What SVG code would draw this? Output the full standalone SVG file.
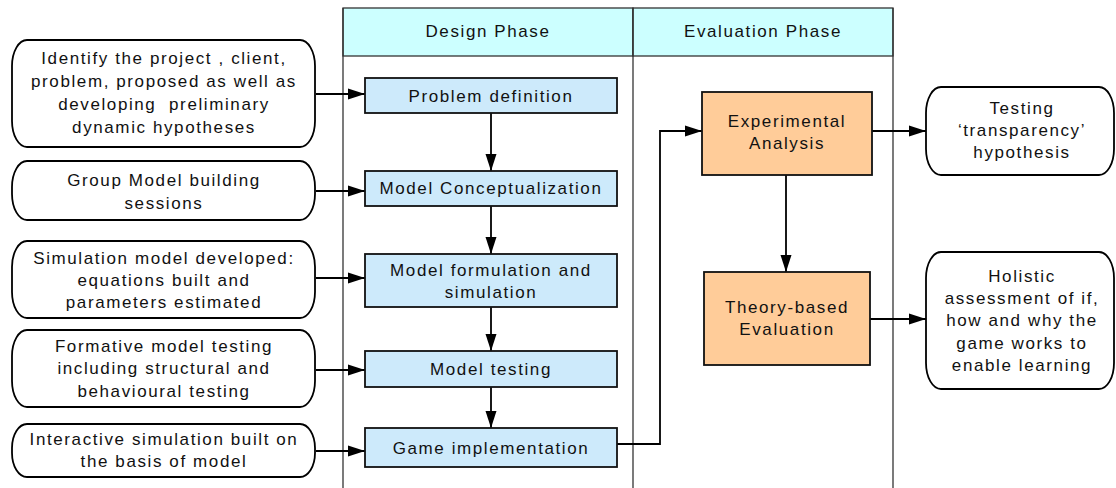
<svg xmlns="http://www.w3.org/2000/svg" width="1116" height="488" viewBox="0 0 1116 488">
  <defs>
    <marker id="arrow" markerUnits="userSpaceOnUse" markerWidth="17" markerHeight="12" refX="17" refY="6" orient="auto">
      <path d="M0,0.5 L17,6 L0,11.5 z" fill="#000"/>
    </marker>
    <style>
      text { font-family: "Liberation Sans", Arial, sans-serif; font-size: 17px; letter-spacing: 1.6px; fill: #111; text-anchor: middle; dominant-baseline: central; white-space: pre; }
      .lane { fill: none; stroke: #333; stroke-width: 1.3; }
      .head { fill: #ccffff; stroke: #333; stroke-width: 1.3; }
      .term { fill: #fff; stroke: #000; stroke-width: 1.8; }
      .step { fill: #cdeafb; stroke: #111; stroke-width: 1.8; }
      .eval { fill: #ffcc99; stroke: #111; stroke-width: 1.8; }
      .conn { fill: none; stroke: #000; stroke-width: 1.8; marker-end: url(#arrow); }
    </style>
  </defs>
  <rect width="1116" height="488" fill="#fff"/>

  <!-- swimlanes -->
  <g id="lanes">
    <rect class="head" x="343" y="8" width="290" height="48"/>
    <rect class="head" x="633" y="8" width="260" height="48"/>
    <line class="lane" x1="343" y1="8" x2="343" y2="488"/>
    <line class="lane" x1="633" y1="8" x2="633" y2="488"/>
    <line class="lane" x1="893" y1="8" x2="893" y2="488"/>
    <text x="488" y="31">Design Phase</text>
    <text x="763" y="31">Evaluation Phase</text>
  </g>

  <!-- connectors -->
  <g id="connectors">
    <line class="conn" x1="316" y1="94" x2="365" y2="94"/>
    <line class="conn" x1="316" y1="191" x2="365" y2="191"/>
    <line class="conn" x1="316" y1="278" x2="365" y2="278"/>
    <line class="conn" x1="316" y1="370" x2="365" y2="370"/>
    <line class="conn" x1="316" y1="451" x2="365" y2="451"/>
    <line class="conn" x1="491" y1="113" x2="491" y2="171"/>
    <line class="conn" x1="491" y1="206" x2="491" y2="254"/>
    <line class="conn" x1="491" y1="307" x2="491" y2="351"/>
    <line class="conn" x1="491" y1="387" x2="491" y2="428"/>
    <polyline class="conn" points="617,444 660,444 660,131 702,131"/>
    <line class="conn" x1="872" y1="131" x2="926" y2="131"/>
    <line class="conn" x1="786" y1="175" x2="786" y2="272"/>
    <line class="conn" x1="870" y1="319" x2="926" y2="319"/>
  </g>

  <!-- input activities -->
  <g id="in-identify">
    <rect class="term" x="12" y="40" width="303" height="107" rx="15" ry="26"/>
    <text x="164" y="58">Identify the project , client,</text>
    <text x="164" y="81">problem, proposed as well as</text>
    <text x="164" y="104">developing  preliminary</text>
    <text x="164" y="127">dynamic hypotheses</text>
  </g>
  <g id="in-gmb">
    <rect class="term" x="12" y="161" width="303" height="59" rx="15" ry="26"/>
    <text x="164" y="180">Group Model building</text>
    <text x="164" y="203">sessions</text>
  </g>
  <g id="in-sim">
    <rect class="term" x="12" y="241" width="303" height="77" rx="15" ry="26"/>
    <text x="164" y="258">Simulation model developed:</text>
    <text x="164" y="280">equations built and</text>
    <text x="164" y="302">parameters estimated</text>
  </g>
  <g id="in-testing">
    <rect class="term" x="12" y="330" width="303" height="77" rx="15" ry="26"/>
    <text x="164" y="346">Formative model testing</text>
    <text x="164" y="368">including structural and</text>
    <text x="164" y="391">behavioural testing</text>
  </g>
  <g id="in-game">
    <rect class="term" x="12" y="424" width="303" height="53" rx="15" ry="24"/>
    <text x="164" y="439">Interactive simulation built on</text>
    <text x="164" y="461">the basis of model</text>
  </g>

  <!-- design phase steps -->
  <g id="step-problem">
    <rect class="step" x="365" y="78" width="252" height="35"/>
    <text x="491" y="96">Problem definition</text>
  </g>
  <g id="step-concept">
    <rect class="step" x="365" y="171" width="252" height="35"/>
    <text x="491" y="188">Model Conceptualization</text>
  </g>
  <g id="step-formulation">
    <rect class="step" x="365" y="254" width="252" height="53"/>
    <text x="491" y="270">Model formulation and</text>
    <text x="491" y="292">simulation</text>
  </g>
  <g id="step-testing">
    <rect class="step" x="365" y="351" width="252" height="36"/>
    <text x="491" y="369">Model testing</text>
  </g>
  <g id="step-game">
    <rect class="step" x="365" y="428" width="252" height="39"/>
    <text x="491" y="448">Game implementation</text>
  </g>

  <!-- evaluation phase steps -->
  <g id="eval-experimental">
    <rect class="eval" x="702" y="92" width="170" height="83"/>
    <text x="787" y="121">Experimental</text>
    <text x="787" y="143">Analysis</text>
  </g>
  <g id="eval-theory">
    <rect class="eval" x="704" y="272" width="166" height="93"/>
    <text x="787" y="307">Theory-based</text>
    <text x="787" y="329">Evaluation</text>
  </g>

  <!-- outcomes -->
  <g id="out-transparency">
    <rect class="term" x="926" y="87" width="188" height="88" rx="15" ry="26"/>
    <text x="1022" y="108">Testing</text>
    <text x="1022" y="130">‘transparency’</text>
    <text x="1022" y="152">hypothesis</text>
  </g>
  <g id="out-holistic">
    <rect class="term" x="926" y="252" width="188" height="137" rx="15" ry="26"/>
    <text x="1022" y="276">Holistic</text>
    <text x="1022" y="298">assessment of if,</text>
    <text x="1022" y="320">how and why the</text>
    <text x="1022" y="343">game works to</text>
    <text x="1022" y="365">enable learning</text>
  </g>
</svg>
